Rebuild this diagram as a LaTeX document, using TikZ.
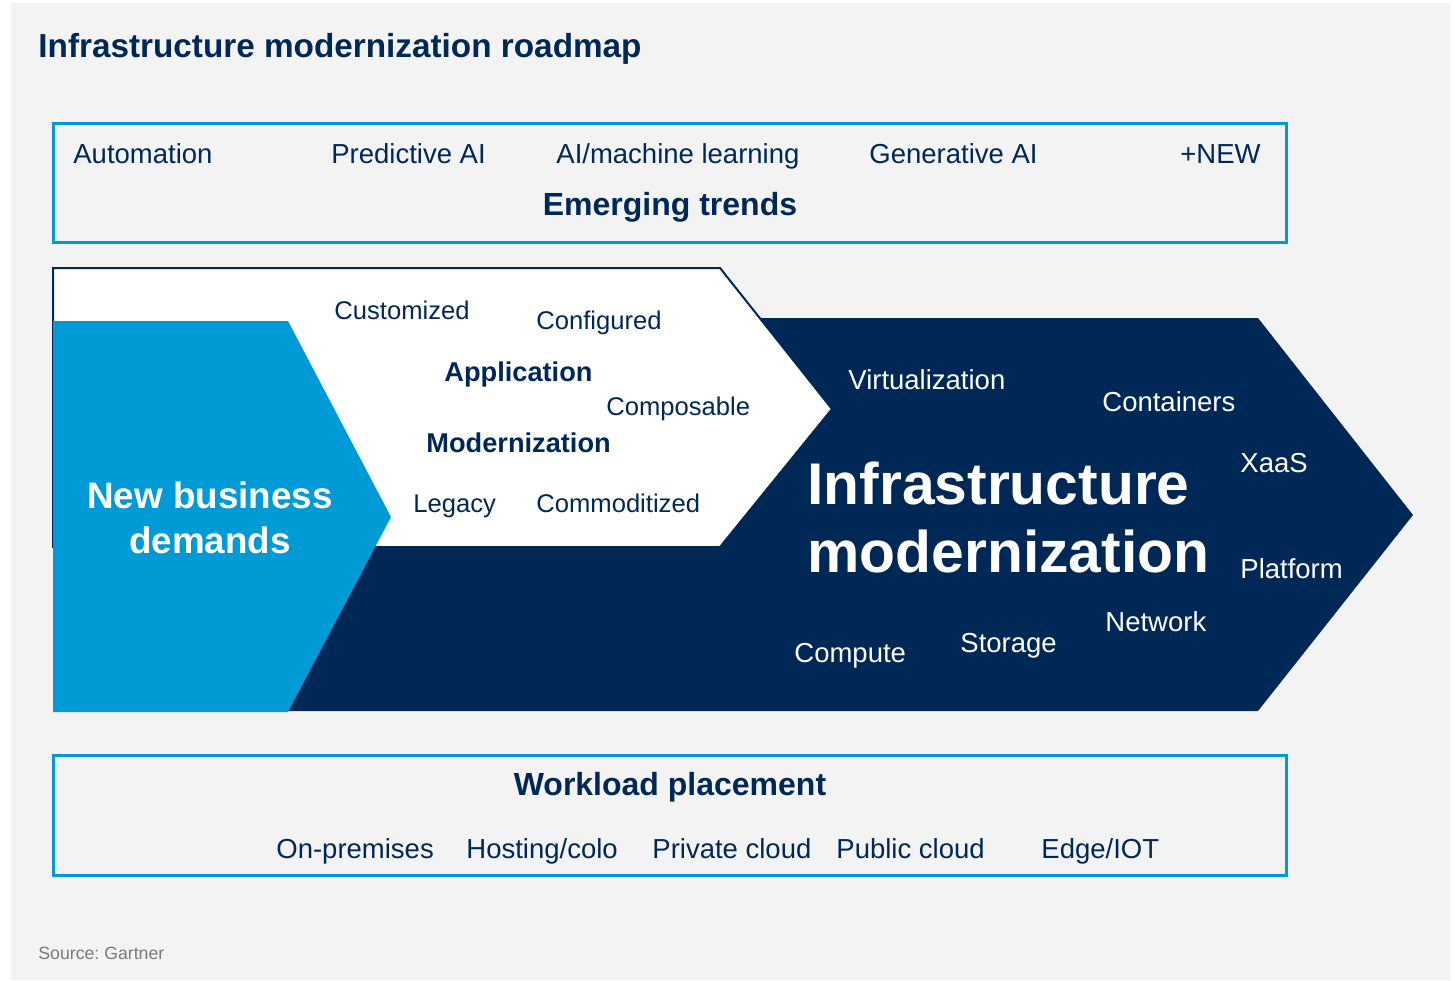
\documentclass[tikz,border=0pt]{standalone}
\usepackage{fontspec}
\setmainfont{Liberation Sans}
\usepackage{tikz}
\frenchspacing
\definecolor{navy}{RGB}{0, 40, 86}
\definecolor{bizblue}{RGB}{0, 155, 214}
\definecolor{bggrey}{RGB}{243, 243, 243}
\definecolor{srcgrey}{RGB}{118, 124, 126}
\tikzset{
  txt/.style={inner sep=0, anchor=base west, text=navy, font=\fontsize{13.75}{16}\selectfont},
  apptxt/.style={txt, font=\fontsize{12.8}{15}\selectfont},
  appbold/.style={txt, font=\bfseries\fontsize{13.6}{16}\selectfont},
  wtxt/.style={txt, text=white},
  heading/.style={inner sep=0, anchor=base, text=navy, font=\bfseries\fontsize{16}{18}\selectfont},
  bandbox/.style={draw=bizblue, line width=1.5pt}
}
\begin{document}
\begin{tikzpicture}[x=0.5pt, y=-0.5pt]
\useasboundingbox (0,0) rectangle (1455,980);
\fill[white] (0,0) rectangle (1455,980);
\fill[bggrey] (11,3) rectangle (1450,980);
\node[txt, font=\bfseries\fontsize{16.65}{19}\selectfont] (title) at (38,57) {Infrastructure modernization roadmap};

% emerging trends band
\draw[bandbox] (53,123) rectangle (1286,242);
\node[txt] (auto) at (73,163) {Automation};
\node[txt] (predai) at (331,163) {Predictive AI};
\node[txt] (ml) at (556,163) {AI/machine learning};
\node[txt] (genai) at (869,163) {Generative AI};
\node[txt] (new) at (1180,163) {+NEW};
\node[heading] (trends) at (670,215) {Emerging trends};

% chevrons
\fill[navy] (53,318) -- (1258,318) -- (1413,515) -- (1258,711) -- (53,711) -- cycle;
\filldraw[fill=white, draw=navy, line width=1pt] (53,268) -- (720,268) -- (832,409) -- (720,547) -- (53,547) -- cycle;
\fill[bizblue] (53,321) -- (288,321) -- (391,517) -- (288,712) -- (53,712) -- cycle;

\node[apptxt] (custom) at (334,319) {Customized};
\node[apptxt] (config) at (536,329) {Configured};
\node[appbold] (appl) at (444,381) {Application};
\node[apptxt] (compos) at (606,415) {Composable};
\node[appbold] (modern) at (426,452) {Modernization};
\node[apptxt] (legacy) at (413,512) {Legacy};
\node[apptxt] (commod) at (536,512) {Commoditized};

\node[inner sep=0, text=white, align=center, font=\bfseries\fontsize{18.4}{22.5}\selectfont] (biz) at (210,518) {New business\\demands};

\node[wtxt] (virt) at (848,389) {Virtualization};
\node[wtxt] (cont) at (1102,411) {Containers};
\node[wtxt] (xaas) at (1240,472) {XaaS};
\node[wtxt] (platf) at (1240,578) {Platform};
\node[wtxt] (netw) at (1105,631) {Network};
\node[wtxt] (stor) at (960,652) {Storage};
\node[wtxt] (comp) at (794,662) {Compute};
\node[inner sep=0, anchor=west, text=white, align=left, font=\bfseries\fontsize{29.4}{34}\selectfont] (infra) at (807,517) {Infrastructure\\modernization};

% workload placement band
\draw[bandbox] (53,755) rectangle (1286,875);
\node[heading] (workload) at (670,795) {Workload placement};
\node[txt] (onprem) at (276,858) {On-premises};
\node[txt] (hosting) at (466,858) {Hosting/colo};
\node[txt] (private) at (652,858) {Private cloud};
\node[txt] (public) at (836,858) {Public cloud};
\node[txt] (edge) at (1041,858) {Edge/IOT};

\node[txt, text=srcgrey, font=\fontsize{8.85}{10}\selectfont] (source) at (38,959) {Source: Gartner};
\end{tikzpicture}
\end{document}
